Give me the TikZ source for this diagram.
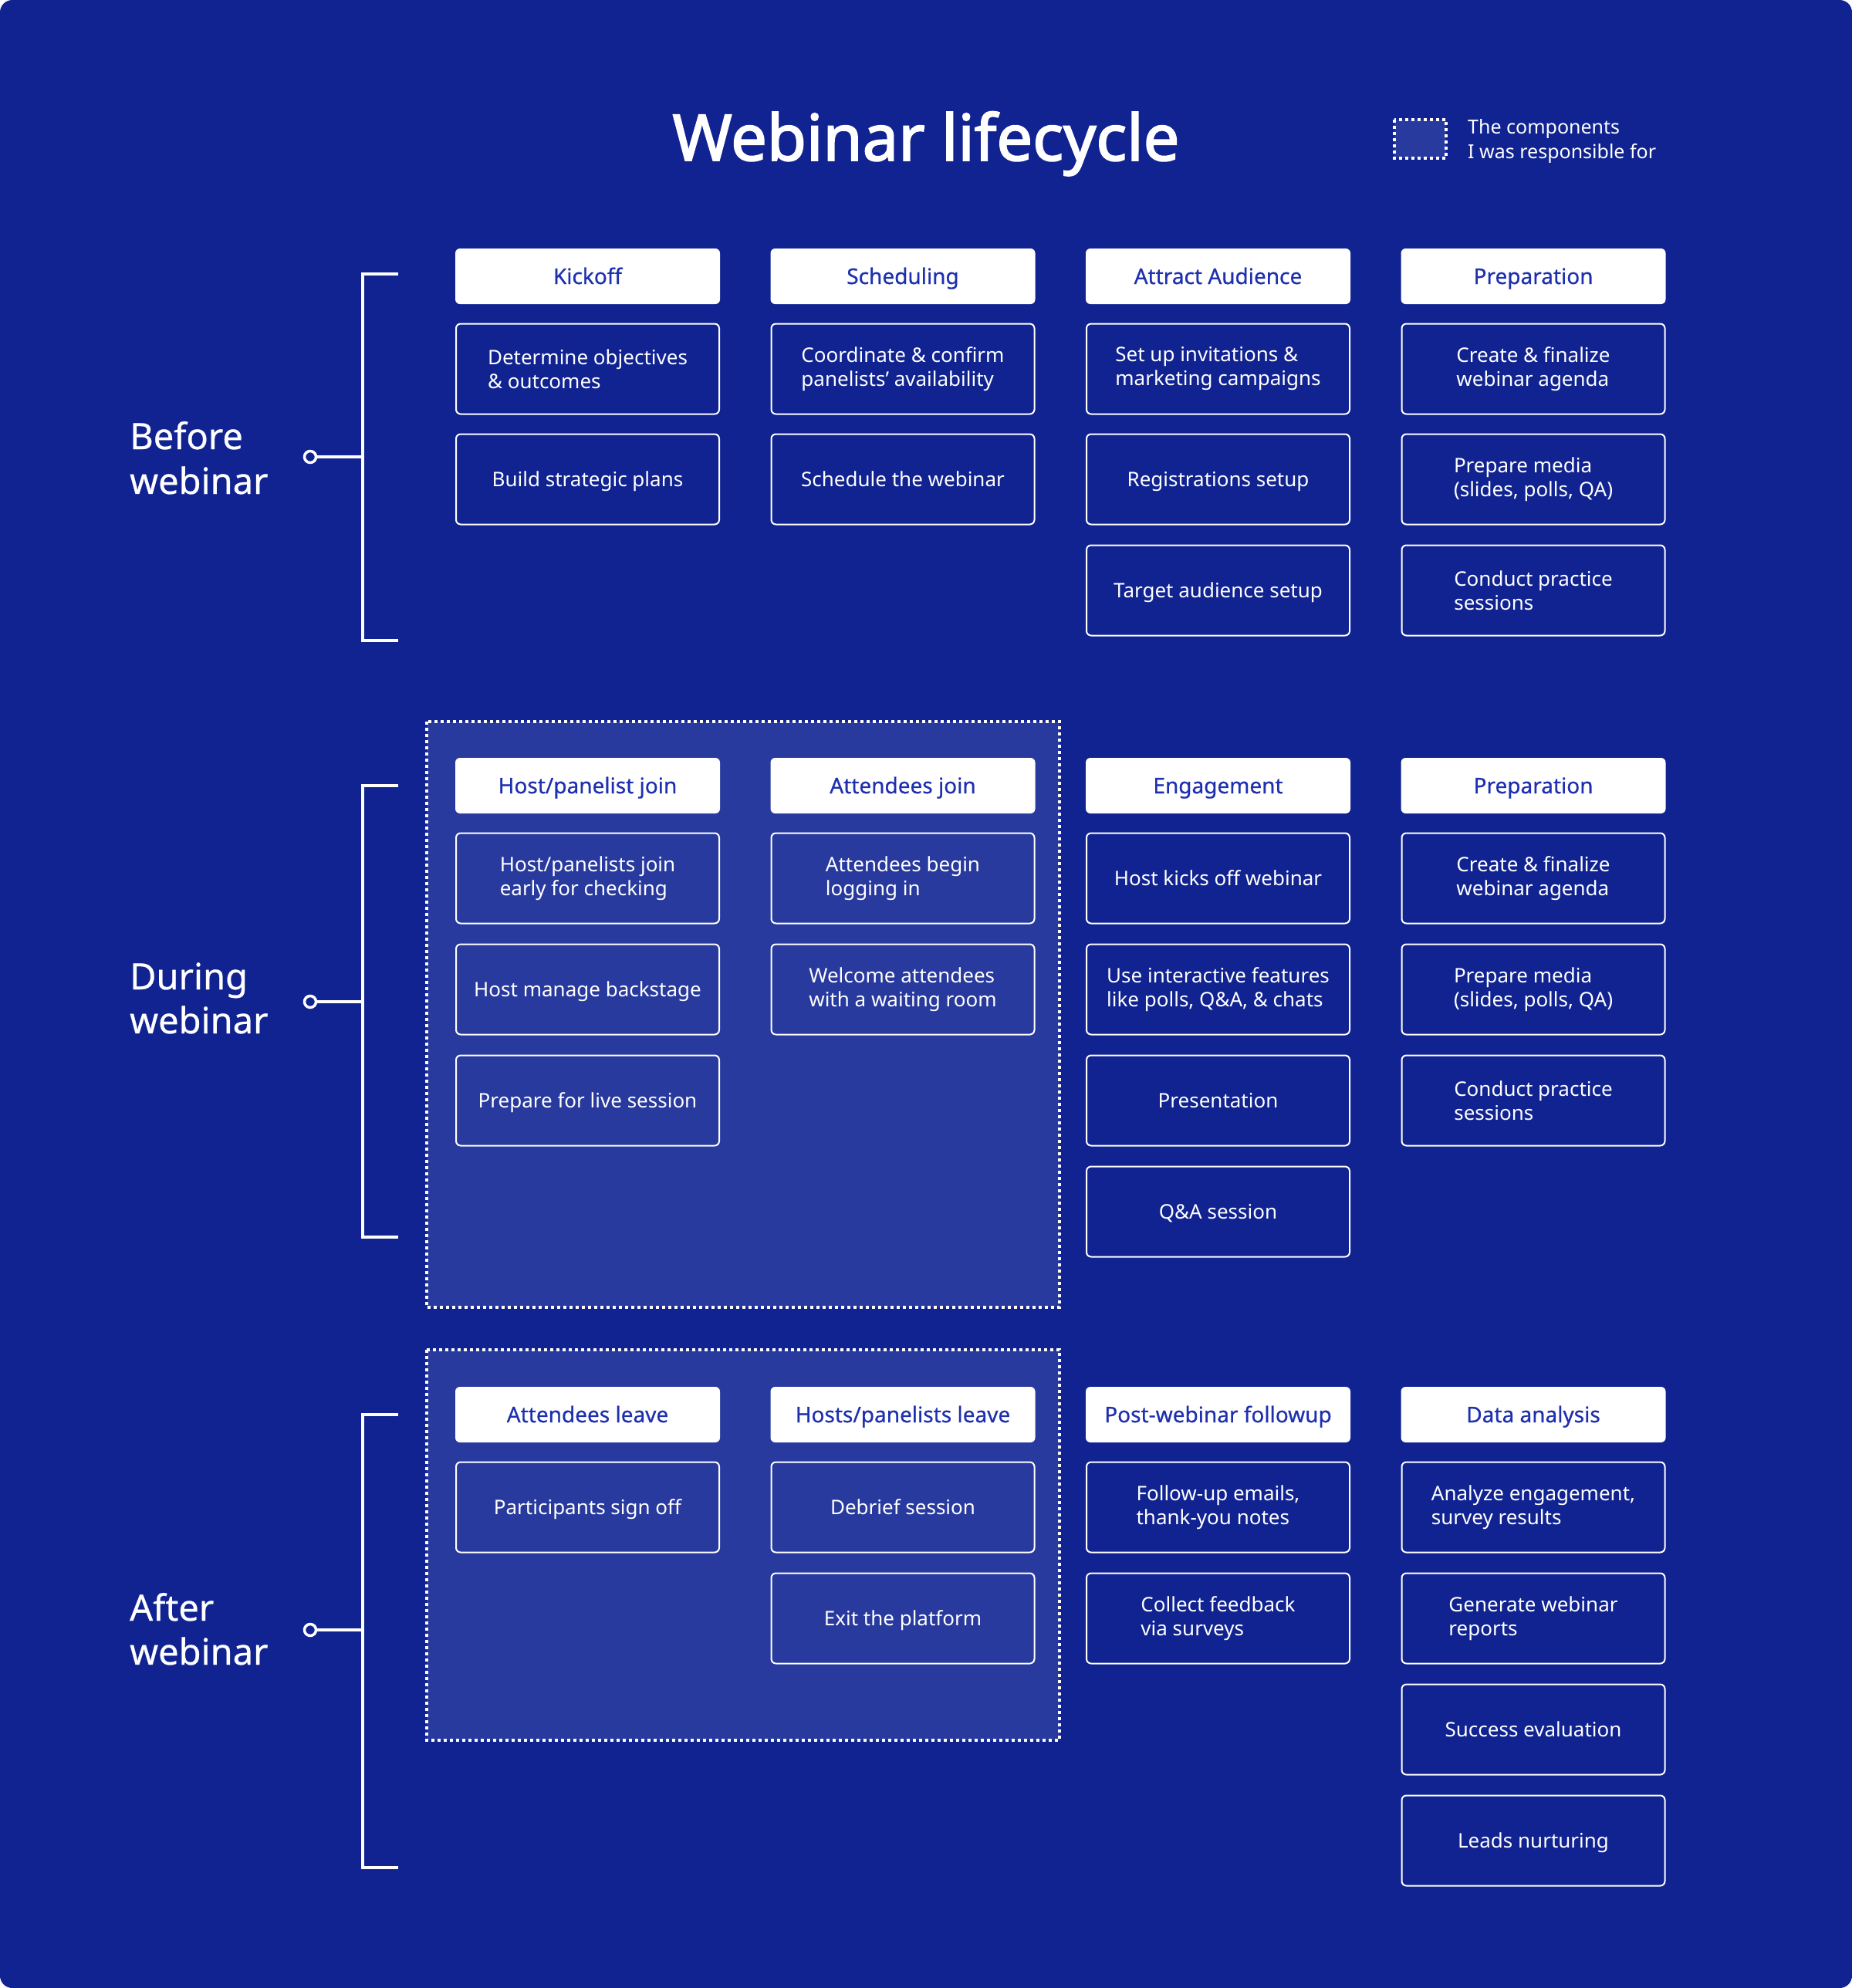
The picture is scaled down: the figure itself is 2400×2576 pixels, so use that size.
\documentclass[tikz,border=0pt]{standalone}
\usepackage{fontspec}
\setmainfont{Noto Sans}
\newfontfamily\titlefont{Noto Sans}[FakeBold=2.2]
\newfontfamily\midfont{Noto Sans}[FakeBold=0.6]
\definecolor{bg}{RGB}{16,35,145}
\definecolor{region}{RGB}{40,58,158}
\definecolor{hdrblue}{RGB}{30,48,175}
\begin{document}
\begin{tikzpicture}[x=1pt,y=-1pt,
  hdr/.style={fill=white, rounded corners=6pt, minimum width=343pt, minimum height=72pt, text=hdrblue, font=\midfont\fontsize{28}{34}\selectfont, inner sep=0pt, text height=20pt, text depth=0pt},
  itm/.style={draw=white, line width=2pt, rounded corners=6pt, minimum width=341pt, minimum height=117pt, text=white, align=left, font=\fontsize{26}{31}\selectfont, inner sep=0pt},
  one/.style={text height=19pt, text depth=0pt},
  dotbox/.style={fill=region, draw=white, line width=4pt, dash pattern=on 4pt off 4pt},
  brk/.style={draw=white, line width=4pt},
  knob/.style={circle, draw=white, line width=3.5pt, fill=bg, minimum size=15pt, inner sep=0pt},
  lbl/.style={text=white, font=\midfont\fontsize{47}{57}\selectfont, inner sep=0pt, anchor=base west},
  leg/.style={text=white, font=\fontsize{25}{32}\selectfont, inner sep=0pt, anchor=base west}]
\useasboundingbox (0,0) rectangle (2400,2576);
\fill[bg, rounded corners=16pt] (0,0) rectangle (2400,2576);

% title and legend
\node[text=white, font=\titlefont\fontsize{83}{90}\selectfont, inner sep=0pt, anchor=base] (title) at (1200,208) {Webinar lifecycle};
\draw[dotbox] (1807,155) rectangle (1874,205);
\node[leg] (leg1) at (1902,173) {The components};
\node[leg] (leg2) at (1902,205) {I was responsible for};

% dotted regions
\draw[dotbox] (553,935) rectangle (1373,1694);
\draw[dotbox] (553,1749) rectangle (1373,2255);

% ---------- Before webinar ----------
\node[hdr] (h11) at (761.5,358) {Kickoff};
\node[hdr] (h12) at (1170,358) {Scheduling};
\node[hdr] (h13) at (1578.5,358) {Attract Audience};
\node[hdr] (h14) at (1987,358) {Preparation};
\node[itm] (a11) at (761.5,478) {Determine objectives\\\& outcomes};
\node[itm,one] (a12) at (761.5,621) {Build strategic plans};
\node[itm] (a21) at (1170,478) {Coordinate \& confirm\\panelists’ availability};
\node[itm,one] (a22) at (1170,621) {Schedule the webinar};
\node[itm] (a31) at (1578.5,478) {Set up invitations \&\\marketing campaigns};
\node[itm,one] (a32) at (1578.5,621) {Registrations setup};
\node[itm,one] (a33) at (1578.5,765) {Target audience setup};
\node[itm] (a41) at (1987,478) {Create \& finalize\\webinar agenda};
\node[itm] (a42) at (1987,621) {Prepare media\\(slides, polls, QA)};
\node[itm] (a43) at (1987,765) {Conduct practice\\sessions};

% ---------- During webinar ----------
\node[hdr] (h21) at (761.5,1018) {Host/panelist join};
\node[hdr] (h22) at (1170,1018) {Attendees join};
\node[hdr] (h23) at (1578.5,1018) {Engagement};
\node[hdr] (h24) at (1987,1018) {Preparation};
\node[itm] (b11) at (761.5,1138) {Host/panelists join\\early for checking};
\node[itm,one] (b12) at (761.5,1282) {Host manage backstage};
\node[itm,one] (b13) at (761.5,1426) {Prepare for live session};
\node[itm] (b21) at (1170,1138) {Attendees begin\\logging in};
\node[itm] (b22) at (1170,1282) {Welcome attendees\\with a waiting room};
\node[itm,one] (b31) at (1578.5,1138) {Host kicks off webinar};
\node[itm] (b32) at (1578.5,1282) {Use interactive features\\like polls, Q\&A, \& chats};
\node[itm,one] (b33) at (1578.5,1426) {Presentation};
\node[itm,one] (b34) at (1578.5,1570) {Q\&A session};
\node[itm] (b41) at (1987,1138) {Create \& finalize\\webinar agenda};
\node[itm] (b42) at (1987,1282) {Prepare media\\(slides, polls, QA)};
\node[itm] (b43) at (1987,1426) {Conduct practice\\sessions};

% ---------- After webinar ----------
\node[hdr] (h31) at (761.5,1833) {Attendees leave};
\node[hdr] (h32) at (1170,1833) {Hosts/panelists leave};
\node[hdr] (h33) at (1578.5,1833) {Post-webinar followup};
\node[hdr] (h34) at (1987,1833) {Data analysis};
\node[itm,one] (c11) at (761.5,1953) {Participants sign off};
\node[itm,one] (c21) at (1170,1953) {Debrief session};
\node[itm,one] (c22) at (1170,2097) {Exit the platform};
\node[itm] (c31) at (1578.5,1953) {Follow-up emails,\\thank-you notes};
\node[itm] (c32) at (1578.5,2097) {Collect feedback\\via surveys};
\node[itm] (c41) at (1987,1953) {Analyze engagement,\\survey results};
\node[itm] (c42) at (1987,2097) {Generate webinar\\reports};
\node[itm,one] (c43) at (1987,2241) {Success evaluation};
\node[itm,one] (c44) at (1987,2385) {Leads nurturing};

% ---------- brackets and labels ----------
\coordinate (t1) at (516,355); \coordinate (e1) at (516,830); \coordinate (m1) at (470,592);
\coordinate (t2) at (516,1018); \coordinate (e2) at (516,1603); \coordinate (m2) at (470,1298);
\coordinate (t3) at (516,1833); \coordinate (e3) at (516,2420); \coordinate (m3) at (470,2112);
\draw[brk] (t1) -- (470,355) -- (470,830) -- (e1);
\draw[brk] (t2) -- (470,1018) -- (470,1603) -- (e2);
\draw[brk] (t3) -- (470,1833) -- (470,2420) -- (e3);
\node[knob] (k1) at (402,592) {};
\node[knob] (k2) at (402,1298) {};
\node[knob] (k3) at (402,2112) {};
\draw[brk] (k1) -- (m1);
\draw[brk] (k2) -- (m2);
\draw[brk] (k3) -- (m3);

\node[lbl] (l1a) at (168,582) {Before};
\node[lbl] (l1b) at (168,640) {webinar};
\node[lbl] (l2a) at (168,1282) {During};
\node[lbl] (l2b) at (168,1339) {webinar};
\node[lbl] (l3a) at (168,2100) {After};
\node[lbl] (l3b) at (168,2157) {webinar};
\end{tikzpicture}
\end{document}
